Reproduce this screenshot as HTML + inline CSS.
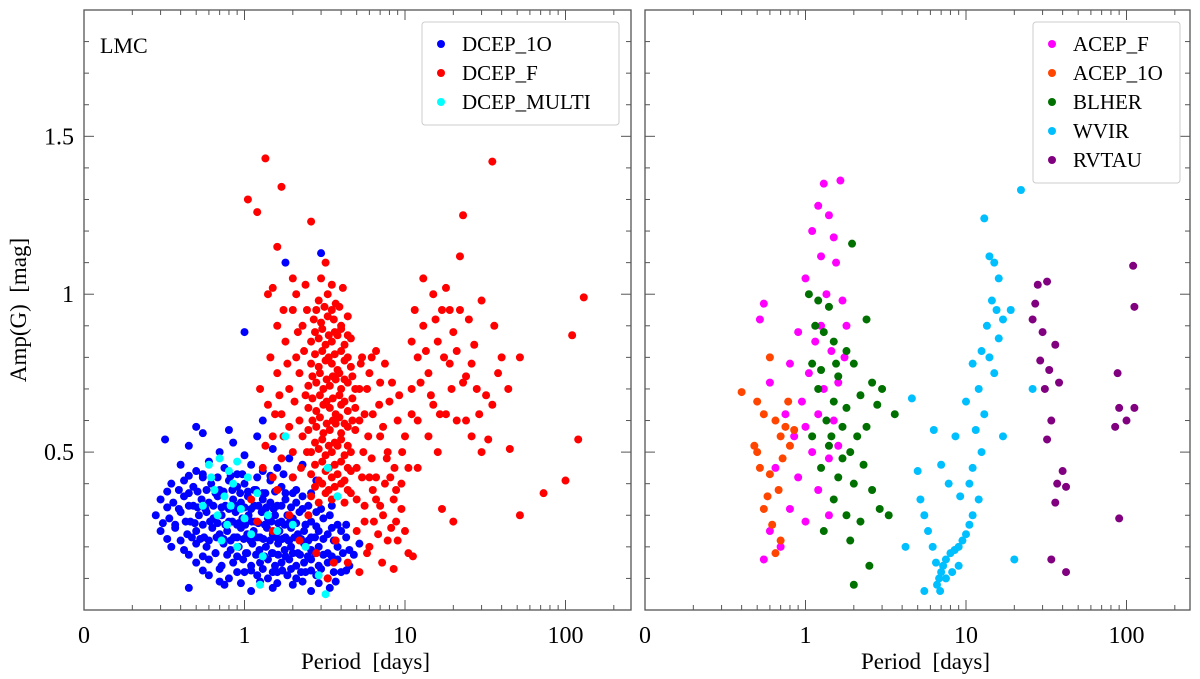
<!DOCTYPE html>
<html><head><meta charset="utf-8"><style>
html,body{margin:0;padding:0;background:#fff;}
svg{display:block;font-family:"Liberation Serif",serif;}
</style></head><body>
<svg id="chart" width="1200" height="679" viewBox="0 0 1200 679">
<g id="left"></g>
<g id="right"></g>
</svg>
<script>
const xTicks=[0.1,1,10,100];
const xTickLabels=["0","1","10","100"];
const yTicks=[0.5,1,1.5];
const yTickLabels=["0.5","1","1.5"];
const dcep1o=[[0.32,0.54],[0.45,0.52],[0.55,0.56],[0.7,0.5],[0.85,0.53],[1.0,0.49],[1.2,0.55],[1.5,0.51],
[0.4,0.46],[0.5,0.44],[0.6,0.47],[0.75,0.45],[0.9,0.43],[1.1,0.46],[1.3,0.44],[1.6,0.45],[2.0,0.42],
[0.35,0.4],[0.42,0.41],[0.48,0.39],[0.55,0.42],[0.62,0.4],[0.7,0.38],[0.8,0.41],[0.9,0.39],[1.0,0.4],[1.15,0.38],[1.3,0.37],[1.45,0.41],[1.7,0.39],[2.1,0.38],[2.6,0.37],
[0.3,0.35],[0.36,0.34],[0.42,0.36],[0.48,0.33],[0.54,0.35],[0.6,0.34],[0.68,0.36],[0.76,0.33],[0.85,0.35],[0.95,0.34],[1.05,0.36],[1.15,0.33],[1.3,0.35],[1.45,0.34],[1.6,0.33],[1.8,0.35],[2.1,0.34],[2.5,0.33],[3.0,0.32],
[0.28,0.3],[0.34,0.29],[0.4,0.31],[0.46,0.28],[0.52,0.3],[0.58,0.31],[0.64,0.29],[0.72,0.3],[0.8,0.28],[0.88,0.31],[0.97,0.29],[1.06,0.3],[1.16,0.28],[1.28,0.31],[1.4,0.29],[1.55,0.3],[1.7,0.28],[1.85,0.3],[2.0,0.29],[2.2,0.31],[2.6,0.28],[3.1,0.29],[3.8,0.27],
[0.3,0.25],[0.37,0.26],[0.44,0.24],[0.5,0.25],[0.56,0.23],[0.63,0.26],[0.7,0.24],[0.78,0.25],[0.86,0.23],[0.95,0.26],[1.04,0.24],[1.14,0.25],[1.25,0.23],[1.38,0.26],[1.5,0.24],[1.65,0.25],[1.8,0.23],[1.95,0.26],[2.15,0.24],[2.35,0.25],[2.6,0.23],[2.9,0.25],[3.3,0.24],[4.0,0.25],
[0.35,0.2],[0.42,0.19],[0.5,0.21],[0.58,0.2],[0.66,0.18],[0.74,0.21],[0.82,0.19],[0.92,0.2],[1.02,0.18],[1.12,0.21],[1.24,0.19],[1.36,0.2],[1.5,0.18],[1.62,0.21],[1.78,0.19],[1.95,0.2],[2.15,0.18],[2.35,0.21],[2.6,0.19],[2.9,0.2],[3.3,0.18],[3.8,0.2],[4.5,0.19],[5.2,0.21],
[0.5,0.15],[0.6,0.16],[0.72,0.14],[0.85,0.15],[0.98,0.16],[1.1,0.14],[1.25,0.15],[1.4,0.16],[1.55,0.14],[1.7,0.15],[1.9,0.16],[2.1,0.14],[2.35,0.15],[2.6,0.16],[2.9,0.14],[3.3,0.15],[3.8,0.16],[4.5,0.14],
[0.6,0.11],[0.8,0.1],[1.0,0.12],[1.2,0.11],[1.4,0.1],[1.6,0.12],[1.85,0.11],[2.1,0.1],[2.4,0.12],[2.8,0.11],[3.3,0.1],[4.0,0.12],
[0.45,0.07],[0.75,0.08],[1.1,0.06],[1.5,0.07],[2.0,0.08],[2.6,0.06],[3.4,0.07],
[1.0,0.88],[1.8,1.1],[3.0,1.13],[0.5,0.58],[0.8,0.57],[1.3,0.6],[1.9,0.48],[2.3,0.46],[2.8,0.41],[3.5,0.33],[0.9,0.27],[1.9,0.22],[2.4,0.27],[1.35,0.32],[2.0,0.37]];
const dcep1oDense=[[0.33,0.375],[0.39,0.38],[0.45,0.37],[0.51,0.375],[0.58,0.38],[0.66,0.37],[0.74,0.375],[0.84,0.38],[0.94,0.37],[1.05,0.375],[1.18,0.38],[1.35,0.37],[1.55,0.375],[1.8,0.37],[2.3,0.36],
[0.33,0.325],[0.39,0.32],[0.45,0.33],[0.51,0.325],[0.57,0.32],[0.64,0.33],[0.72,0.325],[0.8,0.32],[0.9,0.33],[1.0,0.325],[1.1,0.32],[1.22,0.33],[1.37,0.325],[1.52,0.32],[1.7,0.33],[1.95,0.325],[2.3,0.32],[2.8,0.31],[3.4,0.3],
[0.31,0.275],[0.37,0.27],[0.43,0.28],[0.49,0.275],[0.55,0.27],[0.61,0.28],[0.68,0.275],[0.76,0.27],[0.84,0.28],[0.92,0.275],[1.01,0.27],[1.11,0.28],[1.22,0.275],[1.34,0.27],[1.47,0.28],[1.62,0.275],[1.78,0.27],[1.92,0.28],[2.1,0.275],[2.4,0.27],[2.8,0.265],[3.5,0.26],[4.3,0.27],
[0.33,0.225],[0.4,0.22],[0.47,0.23],[0.53,0.225],[0.6,0.22],[0.67,0.23],[0.74,0.225],[0.82,0.22],[0.9,0.23],[0.99,0.225],[1.09,0.22],[1.2,0.23],[1.31,0.225],[1.44,0.22],[1.58,0.23],[1.72,0.225],[1.88,0.22],[2.05,0.23],[2.25,0.225],[2.5,0.22],[2.75,0.23],[3.1,0.225],[3.6,0.22],[4.3,0.23],
[0.45,0.175],[0.55,0.17],[0.66,0.18],[0.78,0.175],[0.9,0.17],[1.04,0.18],[1.18,0.175],[1.33,0.17],[1.48,0.18],[1.62,0.175],[1.8,0.17],[2.0,0.18],[2.22,0.175],[2.48,0.17],[2.75,0.18],[3.1,0.175],[3.5,0.17],[4.1,0.18],[4.8,0.175],
[0.55,0.125],[0.7,0.13],[0.9,0.12],[1.1,0.125],[1.3,0.13],[1.5,0.12],[1.72,0.125],[1.95,0.13],[2.25,0.12],[2.6,0.125],[3.0,0.13],[3.6,0.12],[4.3,0.125],
[0.45,0.425],[0.55,0.43],[0.68,0.42],[0.82,0.425],[0.97,0.43],[1.2,0.42],[1.45,0.425],[1.75,0.43],
[0.7,0.09],[0.95,0.085],[1.25,0.09],[1.6,0.085],[2.3,0.09],[2.9,0.085],[3.7,0.09]];
const dcepF=[[2.6,0.36],[2.9,0.34],[3.2,0.37],[3.5,0.35],[3.8,0.36],[4.2,0.34],[4.6,0.37],
[2.6,0.43],[2.9,0.41],[3.2,0.44],[3.5,0.42],[3.8,0.43],[4.2,0.41],[4.6,0.44],
[2.6,0.5],[2.9,0.51],[3.2,0.49],[3.5,0.5],[3.8,0.52],[4.2,0.49],[4.6,0.5],
[2.5,0.57],[2.8,0.58],[3.1,0.56],[3.4,0.57],[3.7,0.59],[4.0,0.56],[4.4,0.58],[4.9,0.57],
[2.5,0.64],[2.8,0.63],[3.1,0.65],[3.4,0.64],[3.7,0.62],[4.0,0.65],[4.4,0.63],[4.9,0.64],
[2.5,0.71],[2.8,0.72],[3.1,0.7],[3.4,0.71],[3.7,0.73],[4.0,0.7],[4.4,0.72],[4.9,0.7],
[2.6,0.78],[2.9,0.77],[3.2,0.79],[3.5,0.78],[3.8,0.76],[4.2,0.79],[4.6,0.77],
[2.6,0.85],[2.9,0.86],[3.2,0.84],[3.5,0.85],[3.8,0.87],[4.2,0.84],[4.6,0.86],
[2.7,0.92],[3.0,0.91],[3.3,0.93],[3.6,0.92],[4.0,0.9],[4.4,0.93],
[2.9,0.98],[3.3,1.0],[3.7,0.97],[4.1,1.02],[2.4,1.03],[3.0,1.05],
[1.3,0.45],[1.5,0.55],[1.7,0.62],[1.9,0.7],[2.1,0.8],[2.3,0.9],[1.6,0.75],[1.8,0.85],[2.0,0.95],[1.4,0.65],[2.2,0.6],[2.0,0.5],[1.7,0.48],[1.5,1.02],[1.6,0.9],[2.4,0.68],[2.2,0.75],[1.9,0.58],
[5.3,0.78],[5.8,0.7],[6.3,0.62],[7.0,0.55],[7.8,0.5],[8.6,0.45],[9.5,0.4],[5.5,0.5],[6.0,0.42],[6.6,0.35],[7.3,0.3],[8.2,0.26],[9.0,0.22],[10.5,0.18],[11.2,0.17],
[5.2,0.6],[5.6,0.33],[6.2,0.8],[7.0,0.72],[8.0,0.66],[9.0,0.6],[10.0,0.55],[5.4,0.42],[6.4,0.28],[7.5,0.4],[8.5,0.35],[6.0,0.2],[7.2,0.15],[8.5,0.13],[5.0,0.25],[4.4,0.15],[5.2,0.12],
[11,0.7],[12,0.8],[13,0.9],[14,0.75],[15,0.65],[16,0.85],[17,0.95],[18,1.02],[19,0.78],[20,0.88],[22,1.12],[23,0.72],[25,0.92],[27,0.84],[30,0.98],[12,0.6],[14,0.55],[16,0.5],[18,0.62],[21,0.6],[24,0.74],[28,0.7],[32,0.68],[36,0.9],[38,0.75],
[11.5,0.95],[13,1.05],[15,1.0],[19,0.95],[23,1.25],[26,0.55],[30,0.5],[35,0.65],[40,0.8],[44,0.7],
[1.35,1.43],[1.05,1.3],[1.2,1.26],[1.7,1.34],[2.6,1.23],[1.4,1.0],[1.6,1.15],[2.0,1.05],[3.2,1.1],
[35,1.42],[130,0.99],[110,0.87],[52,0.8],[45,0.51],[120,0.54],[52,0.3],[73,0.37],[100,0.41],[33,0.54],[17,0.32],[20,0.28],[12,0.45],
[1.2,0.28],[1.5,0.25],[1.9,0.3],[2.2,0.22],[1.1,0.35],[1.6,0.38],[2.5,0.3],[3.7,0.22],[2.8,0.18],[3.6,0.15],[3.3,0.1]];
const dcepFDense=[[2.75,0.39],[3.05,0.4],[3.35,0.38],[3.65,0.39],[4.0,0.4],[4.4,0.38],
[2.75,0.46],[3.05,0.47],[3.35,0.45],[3.65,0.46],[4.0,0.47],[4.4,0.45],
[2.75,0.53],[3.05,0.54],[3.35,0.52],[3.65,0.53],[4.0,0.54],[4.4,0.52],
[2.65,0.6],[2.95,0.61],[3.25,0.59],[3.55,0.6],[3.9,0.61],[4.2,0.59],[4.7,0.6],
[2.65,0.67],[2.95,0.68],[3.25,0.66],[3.55,0.67],[3.9,0.68],[4.2,0.66],[4.7,0.67],
[2.65,0.74],[2.95,0.75],[3.25,0.73],[3.55,0.74],[3.9,0.75],[4.2,0.73],[4.7,0.74],
[2.75,0.81],[3.05,0.82],[3.35,0.8],[3.65,0.81],[4.0,0.82],[4.4,0.8],
[2.75,0.88],[3.05,0.89],[3.35,0.87],[3.65,0.88],[4.0,0.89],[4.4,0.87],
[2.8,0.95],[3.15,0.96],[3.5,0.95],[3.9,0.96],[3.5,1.03],
[5.0,0.45],[5.2,0.7],[5.6,0.62],[5.9,0.55],[6.2,0.48],[6.6,0.42],[6.9,0.65],[7.3,0.58],[7.7,0.48],[8.1,0.42],[8.8,0.38],[9.6,0.5],[10.5,0.45],[5.4,0.8],[6.0,0.75],[6.6,0.82],[7.5,0.78],[8.3,0.72],[9.2,0.68],[5.0,0.35],[5.6,0.28],[6.3,0.38],[7.0,0.33],[7.8,0.22],[8.8,0.28],[9.5,0.32],[10,0.25],[5.8,0.18],[6.8,0.24],
[1.35,0.52],[1.55,0.62],[1.75,0.55],[1.85,0.78],[2.05,0.66],[2.15,0.88],[2.3,0.55],[2.35,0.82],[1.65,0.68],[2.0,0.42],[2.25,0.45],[1.45,0.8],[1.75,0.95],[2.1,1.0],[2.45,0.95],[2.45,0.5],[1.25,0.7],[1.5,0.42],
[12.5,0.72],[13.5,0.82],[14.5,0.68],[15.5,0.92],[16.5,0.62],[17.5,0.8],[19.5,0.7],[21,0.82],[22,0.95],[24,0.6],[26,0.78],[29,0.62],[11,0.62],[11,0.85]];
const dcepMulti=[[0.6,0.46],[0.7,0.48],[0.8,0.44],[0.9,0.47],[0.65,0.38],[0.75,0.36],[0.85,0.4],[0.55,0.33],[0.68,0.3],[0.78,0.27],[0.95,0.32],[1.05,0.42],[1.2,0.37],[1.4,0.3],[1.1,0.24],[0.72,0.22],[0.9,0.2],[1.6,0.25],[2.0,0.27],[1.3,0.17],[2.4,0.2],[3.3,0.45],[3.8,0.36],[2.9,0.11],[3.2,0.05],[1.25,0.08],[0.62,0.42],[0.82,0.33],[1.0,0.29],[1.8,0.55]];
const acepF=[[1.3,1.35],[1.65,1.36],[1.2,1.28],[1.4,1.25],[1.1,1.2],[1.5,1.18],[1.25,1.12],[1.55,1.1],[1.0,1.05],[1.35,1.0],[1.7,0.98],[0.55,0.97],[0.52,0.92],[0.9,0.88],[1.15,0.85],[1.45,0.82],[1.75,0.8],[0.8,0.78],[1.05,0.75],[1.3,0.7],[0.95,0.66],[1.2,0.62],[1.5,0.6],[1.6,0.72],[1.8,0.9],[0.85,0.55],[1.1,0.5],[1.4,0.48],[0.65,0.45],[0.9,0.42],[1.2,0.38],[0.8,0.32],[1.0,0.28],[0.6,0.25],[0.7,0.2],[0.55,0.16],[1.4,0.3],[0.75,0.62],[1.0,0.58],[0.6,0.72],[1.25,0.9],[1.6,0.52]];
const acep1o=[[0.4,0.69],[0.5,0.66],[0.6,0.8],[0.55,0.62],[0.65,0.6],[0.7,0.55],[0.75,0.58],[0.8,0.52],[0.48,0.52],[0.52,0.45],[0.6,0.43],[0.68,0.38],[0.55,0.32],[0.62,0.27],[0.7,0.22],[0.65,0.18],[0.58,0.36],[0.5,0.5],[0.72,0.48],[0.85,0.57],[0.78,0.66]];
const blher=[[1.05,1.0],[1.2,0.98],[1.4,0.96],[1.95,1.16],[1.15,0.9],[1.3,0.88],[1.5,0.85],[1.8,0.82],[2.4,0.92],[1.1,0.78],[1.25,0.76],[1.6,0.74],[2.0,0.78],[2.6,0.72],[3.0,0.7],[1.2,0.7],[1.5,0.66],[1.8,0.64],[2.2,0.68],[2.8,0.65],[1.35,0.6],[1.7,0.58],[2.1,0.55],[1.1,0.55],[1.4,0.52],[1.9,0.5],[2.3,0.46],[1.25,0.45],[1.6,0.42],[2.0,0.4],[2.6,0.38],[1.5,0.35],[1.8,0.3],[2.2,0.28],[2.9,0.32],[3.3,0.3],[1.3,0.25],[1.9,0.22],[2.5,0.14],[2.0,0.08],[1.45,0.55],[1.7,0.48],[2.4,0.58],[3.6,0.62],[1.55,0.78]];
const wvir=[[22,1.33],[13,1.24],[14,1.12],[15,1.1],[16,1.05],[14.5,0.98],[15.5,0.95],[17,0.92],[13.5,0.9],[16,0.86],[12.5,0.82],[14,0.8],[11,0.78],[15,0.75],[10,0.66],[12,0.7],[13,0.62],[11.5,0.57],[12.5,0.5],[11,0.45],[10.5,0.4],[12,0.35],[11,0.3],[10.5,0.27],[10,0.24],[9.5,0.22],[9,0.2],[8.5,0.19],[8,0.18],[7.5,0.16],[7.2,0.14],[7,0.12],[6.8,0.1],[6.6,0.08],[6.9,0.06],[7.5,0.1],[8.2,0.12],[9,0.14],[6.5,0.15],[6.2,0.2],[5.8,0.25],[5.5,0.3],[5,0.44],[4.6,0.67],[5.2,0.35],[6.3,0.57],[7,0.46],[7.8,0.4],[8.6,0.55],[9.2,0.36],[4.2,0.2],[5.5,0.06],[20,0.16],[26,0.7],[19,0.95],[17,0.55]];
const rvtau=[[28,1.03],[32,1.04],[27,0.97],[30,0.88],[36,0.84],[33,0.76],[38,0.72],[31,0.7],[34,0.6],[32,0.54],[40,0.44],[37,0.4],[42,0.39],[36,0.34],[34,0.16],[42,0.12],[110,1.09],[112,0.96],[88,0.75],[90,0.64],[100,0.6],[112,0.64],[85,0.58],[90,0.29],[26,0.92],[29,0.79]];

const NS='http://www.w3.org/2000/svg';
function mk(parent,tag,attrs){const e=document.createElementNS(NS,tag);for(const k in attrs)e.setAttribute(k,attrs[k]);parent.appendChild(e);return e;}
const Y0=610,Y1=10,YMAX=1.9;
function yScale(a){return Y0-(a/YMAX)*(Y0-Y1);}
function makeX(x0){return p=>x0+160.5*(Math.log10(p)+1);}
function panel(g,x0,x1,name){
  const xs=makeX(x0);
  const frame=mk(g,'rect',{x:x0,y:Y1,width:x1-x0,height:Y0-Y1,fill:'none',stroke:'#555','stroke-width':1.3});
  
  
  for(let d=-1;d<=2;d++){for(let m=1;m<10;m++){const v=m*Math.pow(10,d);const x=xs(v);if(x>x1)continue;const len=m===1?10:5;
    mk(g,'line',{x1:x,x2:x,y1:Y0,y2:Y0-len,stroke:'#555','stroke-width':1});
    mk(g,'line',{x1:x,x2:x,y1:Y1,y2:Y1+len,stroke:'#555','stroke-width':1});}}
  xTicks.forEach((t,i)=>{const tx=mk(g,'text',{x:xs(t),y:643,'font-size':24,'text-anchor':'middle',fill:'#000'});tx.textContent=xTickLabels[i];
    
    });
  for(let k=1;k<19;k++){const v=k/10;const y=yScale(v);const major=(k%5===0);const len=major?10:5;
    mk(g,'line',{x1:x0,x2:x0+len,y1:y,y2:y,stroke:'#555','stroke-width':1});
    mk(g,'line',{x1:x1,x2:x1-len,y1:y,y2:y,stroke:'#555','stroke-width':1});}
  const xl=mk(g,'text',{x:(x0+x1)/2+8,y:669,'font-size':23,'text-anchor':'middle',fill:'#000'});xl.textContent='Period\u00a0 [days]';
  
  
  return xs;
}
function scatter(g,xs,data,color,name){
  const s=mk(g,'g',{});
  
  
  data.forEach(d=>{const c=mk(s,'circle',{cx:xs(d[0]),cy:yScale(d[1]),r:4,fill:color});
    
    });
}
function legend(g,x,y,w,items,name){
  const lg=mk(g,'g',{});
  
  
  mk(lg,'rect',{x:x,y:y,width:w,height:items.length*29+16,fill:'#fff',stroke:'#ccc','stroke-width':1,rx:3});
  items.forEach((it,i)=>{const cy=y+22+i*29;
    const e=mk(lg,'g',{});
    
    
    mk(e,'circle',{cx:x+19,cy:cy,r:4,fill:it[1]});
    const t=mk(e,'text',{x:x+40,y:cy+7,'font-size':21,fill:'#000'});t.textContent=it[0];});
}
const L=document.getElementById('left'),R=document.getElementById('right');
const xsL=panel(L,84,631,'left-panel');
const xsR=panel(R,645,1190,'right-panel');
yTicks.forEach((t,i)=>{const tx=mk(L,'text',{x:74,y:yScale(t)+8,'font-size':24,'text-anchor':'end',fill:'#000'});tx.textContent=yTickLabels[i];
  
  });
const yl=mk(L,'text',{x:0,y:0,'font-size':23,'text-anchor':'middle',fill:'#000',transform:'translate(26,310) rotate(-90)'});yl.textContent='Amp(G)\u00a0 [mag]';


const lmc=mk(L,'text',{x:100,y:53,'font-size':22,fill:'#000'});lmc.textContent='LMC';


scatter(L,xsL,dcep1o,'#0000ff','dcep-1o');
scatter(L,xsL,dcep1oDense,'#0000ff','dcep-1o-dense');
scatter(L,xsL,dcepF,'#ff0000','dcep-f');
scatter(L,xsL,dcepFDense,'#ff0000','dcep-f-dense');
scatter(L,xsL,dcepMulti,'#00ffff','dcep-multi');
scatter(R,xsR,acepF,'#ff00ff','acep-f');
scatter(R,xsR,acep1o,'#ff4500','acep-1o');
scatter(R,xsR,blher,'#007000','blher');
scatter(R,xsR,wvir,'#00bfff','wvir');
scatter(R,xsR,rvtau,'#800080','rvtau');
legend(L,422,22,197,[['DCEP_1O','#0000ff'],['DCEP_F','#ff0000'],['DCEP_MULTI','#00ffff']],'left-legend');
legend(R,1033,22,147,[['ACEP_F','#ff00ff'],['ACEP_1O','#ff4500'],['BLHER','#007000'],['WVIR','#00bfff'],['RVTAU','#800080']],'right-legend');
</script>
</body></html>
